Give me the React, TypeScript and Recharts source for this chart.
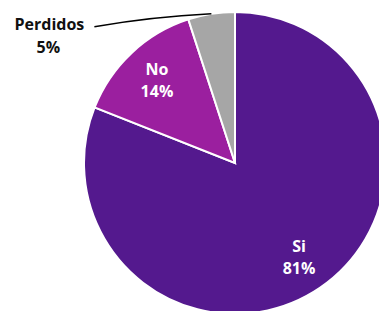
import { PieChart, Pie, Cell } from "recharts";

const labels = ["Si", "No", "Perdidos"];
const values = [81, 14, 5];
const colors = ["#54198E", "#9B1F9F", "#A6A6A6"];

const data = labels.map((name, i) => ({ name, value: values[i] }));

const RAD = Math.PI / 180;
const FONT = "Open Sans, Noto Sans, sans-serif";

function renderLabel(props: any) {
  const { cx, cy, midAngle, outerRadius, index, name, value } = props;
  const cos = Math.cos(-midAngle * RAD);
  const sin = Math.sin(-midAngle * RAD);
  if (index === 2) {
    // outside label with leader line
    const ex = cx + outerRadius * cos;
    const ey = cy + outerRadius * sin;
    const lx = ex - 117;
    const ly = ey + 13;
    return (
      <g>
        <path
          d={`M${ex},${ey} Q${ex - 60},${ey + 3} ${lx},${ly}`}
          stroke="#000"
          strokeWidth={1.5}
          fill="none"
        />
        <text x={lx - 45} y={ly - 3} textAnchor="middle" dominantBaseline="central" fontFamily={FONT} fontWeight="bold" fontSize={16} fill="#111">
          {name}
        </text>
        <text x={lx - 46} y={ly + 20} textAnchor="middle" dominantBaseline="central" fontFamily={FONT} fontWeight="bold" fontSize={16} fill="#111">
          {value}%
        </text>
      </g>
    );
  }
  const r = outerRadius * 0.755;
  const x = cx + r * cos;
  const y = cy + r * sin;
  return (
    <g>
      <text x={x} y={y - 11} textAnchor="middle" dominantBaseline="central" fontFamily={FONT} fontWeight="bold" fontSize={16} fill="#fff">
        {name}
      </text>
      <text x={x} y={y + 11} textAnchor="middle" dominantBaseline="central" fontFamily={FONT} fontWeight="bold" fontSize={16} fill="#fff">
        {value}%
      </text>
    </g>
  );
}

export default function App() {
  return (
    <div style={{ position: "absolute", left: 0, top: 0, background: "#fff" }}>
      <PieChart width={379} height={311} margin={{ top: 0, right: 0, bottom: 0, left: 0 }}>
        <Pie
          data={data}
          dataKey="value"
          nameKey="name"
          cx={235}
          cy={163}
          outerRadius={151}
          startAngle={90}
          endAngle={-270}
          stroke="#fff"
          strokeWidth={2}
          label={renderLabel}
          labelLine={false}
          isAnimationActive={false}
        >
          {data.map((d, i) => (
            <Cell key={d.name} fill={colors[i]} />
          ))}
        </Pie>
      </PieChart>
    </div>
  );
}
